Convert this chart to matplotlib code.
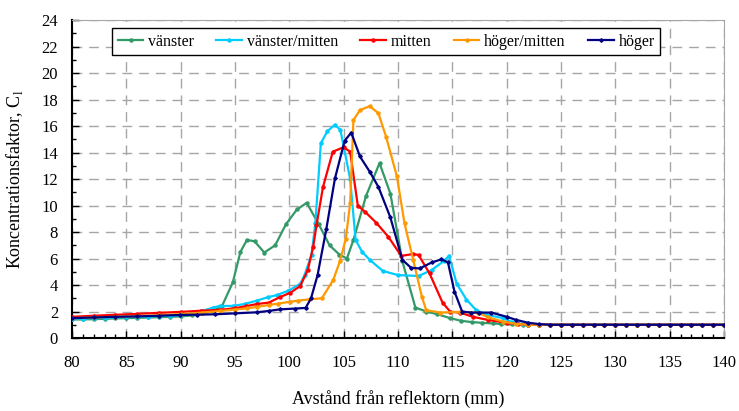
import matplotlib
matplotlib.use("Agg")
import matplotlib.pyplot as plt
from matplotlib.ticker import MultipleLocator

plt.rcParams['font.family'] = ['Liberation Serif', 'DejaVu Serif']

# --- data (x in mm, y = concentration factor) ---
tail_x = [123, 124, 125, 126, 127, 128, 129, 130, 131, 132, 133, 134, 135, 136, 137, 138, 139, 140]
tail_y = [1.0] * len(tail_x)

vanster_x = [80, 81, 82, 83, 84, 85, 86, 87, 88, 89, 90, 91, 92, 93, 93.8, 94.8, 95.5, 96.1,
             96.8, 97.7, 98.7, 99.7, 100.7, 101.6, 102.7, 103.7, 104.6, 105.3, 105.9, 107.05,
             108.3, 109.3, 110.4, 111.6, 112.6, 113.6, 114.8, 115.8, 116.8, 117.7, 118.7, 119.5,
             120.5, 121.5, 122] + tail_x
vanster_y = [1.40, 1.40, 1.42, 1.45, 1.48, 1.50, 1.52, 1.55, 1.57, 1.60, 1.63, 1.70, 1.85, 2.05,
             2.4, 4.2, 6.5, 7.4, 7.3, 6.45, 7.0, 8.6, 9.7, 10.2, 8.6, 7.0, 6.3, 6.0, 7.4, 10.7,
             13.2, 10.9, 5.8, 2.3, 2.0, 1.8, 1.5, 1.3, 1.2, 1.15, 1.1, 1.06, 1.02, 1.0, 1.0] + tail_y

vm_x = [80, 81, 82, 83, 84, 85, 86, 87, 88, 89, 90, 91, 92, 93, 93.6, 94.8, 95.9, 97, 98, 98.9,
        99.9, 101, 101.4, 102.05, 102.4, 102.9, 103.5, 104.2, 104.7, 105.6, 106.1, 106.7, 107.4,
        108.6, 110, 111.9, 113.1, 114.2, 114.7, 115.4, 116.3, 117.2, 118.2, 119.7, 120.5, 121.5,
        122] + tail_x
vm_y = [1.45, 1.47, 1.50, 1.52, 1.55, 1.57, 1.60, 1.62, 1.65, 1.68, 1.72, 1.85, 2.05, 2.3, 2.42,
        2.42, 2.57, 2.82, 3.07, 3.25, 3.57, 4.08, 4.75, 6.3, 8.7, 14.7, 15.6, 16.1, 15.7, 12.0,
        7.4, 6.5, 5.9, 5.06, 4.75, 4.68, 5.13, 5.8, 6.2, 4.1, 2.9, 2.1, 1.75, 1.49, 1.2, 1.05,
        1.0] + tail_y

mitten_x = [80, 82, 84, 86, 88, 90, 91.9, 93.6, 95, 96, 97.05, 98.1, 99.1, 100.1, 101, 101.7,
            102.2, 102.5, 103.1, 104, 105, 105.6, 106.3, 107, 108, 109.1, 110.3, 111.4, 111.9,
            112.9, 114.1, 114.8, 115.7, 116.9, 118.3, 120, 121, 122] + tail_x
mitten_y = [1.6, 1.68, 1.75, 1.82, 1.9, 1.97, 2.06, 2.12, 2.25, 2.4, 2.57, 2.67, 3.07, 3.42, 3.92,
            5.13, 6.9, 8.5, 11.4, 14.06, 14.4, 14.06, 10.0, 9.5, 8.7, 7.65, 6.2, 6.34, 6.26, 4.88,
            2.67, 1.99, 1.92, 1.6, 1.36, 1.15, 1.05, 1.0] + tail_y

hm_x = [80, 82, 84, 86, 88, 90, 92, 93.6, 95, 96.1, 97, 98.1, 99, 100.1, 100.8, 101.9, 103,
        104.05, 104.66, 105.2, 105.6, 105.9, 106.5, 107.4, 108.2, 108.9, 109.9, 110.6, 111.4,
        112.2, 112.6, 113.9, 115.7, 117.4, 118.3, 119.7, 120.9, 122] + tail_x
hm_y = [1.5, 1.55, 1.6, 1.65, 1.72, 1.8, 1.92, 2.04, 2.15, 2.24, 2.35, 2.49, 2.6, 2.74, 2.82,
        2.92, 3.0, 4.4, 5.8, 7.5, 10.2, 16.45, 17.2, 17.5, 16.96, 15.2, 12.2, 8.65, 5.9, 3.1,
        2.1, 1.92, 1.97, 1.9, 1.56, 1.23, 1.06, 1.0] + tail_y

hoger_x = [80, 82, 84, 86, 88, 89.9, 91.5, 93.2, 95, 97, 98.1, 99.1, 100.5, 101.5, 102, 102.6,
           103.4, 104.2, 105.1, 105.7, 106.5, 107.4, 108.2, 109.3, 110.4, 111.2, 112, 113.1, 114,
           114.6, 115.2, 115.9, 116.7, 117.5, 118.6, 120, 120.9, 122, 123] + tail_x[1:]
hoger_y = [1.5, 1.55, 1.6, 1.63, 1.68, 1.74, 1.76, 1.79, 1.86, 1.94, 2.04, 2.16, 2.22, 2.27, 3.0,
           4.75, 8.2, 12.05, 14.9, 15.5, 13.7, 12.55, 11.4, 9.1, 5.9, 5.3, 5.25, 5.7, 5.94, 5.7,
           3.5, 2.0, 1.92, 1.92, 1.92, 1.6, 1.36, 1.15, 1.05] + tail_y[1:]

series_names = ['vänster', 'vänster/mitten', 'mitten', 'höger/mitten', 'höger']
series_x = [vanster_x, vm_x, mitten_x, hm_x, hoger_x]
series_y = [vanster_y, vm_y, mitten_y, hm_y, hoger_y]
colors = ['#339966', '#00ccff', '#ff0000', '#ff9900', '#000080']
markers = ['o', 'o', 'o', 'o', 'D']

fig = plt.figure(figsize=(7.39, 4.11), dpi=100)
ax = fig.add_axes([0.0974, 0.1776, 0.8823, 0.7737])

for name, xs, ys, c, m in zip(series_names, series_x, series_y, colors, markers):
    ax.plot(xs, ys, color=c, lw=1.6, marker=m, ms=2.2 if m == 'o' else 1.8,
            label=name, zorder=3)

ax.set_xlim(80, 140)
ax.set_ylim(0, 24)
ax.xaxis.set_major_locator(MultipleLocator(5))
ax.xaxis.set_minor_locator(MultipleLocator(1))
ax.yaxis.set_major_locator(MultipleLocator(2))
ax.yaxis.set_minor_locator(MultipleLocator(1))
ax.tick_params(which='both', direction='in', top=False, right=False, labelsize=12)
ax.tick_params(which='major', length=5, width=1)
ax.tick_params(which='minor', length=3, width=1)
ax.tick_params(axis='x', pad=12)
ax.tick_params(axis='y', pad=10)

ax.grid(True, which='major', color='#a6a6a6', linestyle=(0, (7, 5)), lw=1)
for side in ['top', 'right']:
    ax.spines[side].set_color('#a6a6a6')
for side in ['left', 'bottom']:
    ax.spines[side].set_linewidth(1.5)

ax.set_xlabel('Avstånd från reflektorn (mm)', fontsize=13, labelpad=14)
ax.set_ylabel('Koncentrationsfaktor, C$_\\mathregular{l}$', fontsize=13, labelpad=12)

leg = ax.legend(loc='upper center', bbox_to_anchor=(0.482, 1.0), ncol=5, fontsize=11.5,
                frameon=True, fancybox=False, framealpha=1, edgecolor='black',
                handlelength=1.6, handletextpad=0.3, columnspacing=1.4,
                borderpad=0.35)
leg.get_frame().set_linewidth(1.0)

fig.savefig('out.png', dpi=100)
